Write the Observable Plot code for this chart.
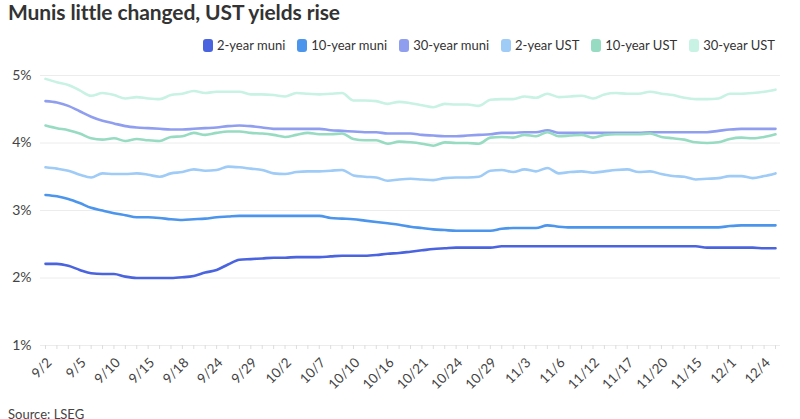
<!DOCTYPE html>
<html><head><meta charset="utf-8">
<script src="https://cdn.jsdelivr.net/npm/d3@7"></script>
<script src="https://cdn.jsdelivr.net/npm/@observablehq/plot@0.6"></script>
<style>
body{margin:0;background:#fff;font-family:Lato,"Open Sans",sans-serif;width:800px;height:419px;overflow:hidden;position:relative}
#title{position:absolute;left:8px;top:-1px;font-size:21px;font-weight:700;color:#333;letter-spacing:-0.1px}
#legend{position:absolute;right:25px;top:37px;display:flex;gap:12px;font-size:13px;color:#333;align-items:center}
#legend .it{display:flex;align-items:center;gap:4px}
#legend .sw{width:10px;height:13px;border-radius:3px;display:inline-block}
#chart{position:absolute;left:0;top:60px}
#source{position:absolute;left:8px;top:406px;font-size:13px;color:#444}
</style></head>
<body>
<div id="title">Munis little changed, UST yields rise</div>
<div id="legend"></div>
<div id="chart"></div>
<div id="source">Source: LSEG</div>
<script>
const seriesNames = ["2-year muni","10-year muni","30-year muni","2-year UST","10-year UST","30-year UST"];
const seriesColors = ["#4a63de","#4b95ec","#909ef0","#9fcbf7","#96dbc2","#c8f2e3"];
const tickLabels = ["9/2","9/5","9/10","9/15","9/18","9/24","9/29","10/2","10/7","10/10","10/16","10/21","10/24","10/29","11/3","11/6","11/12","11/17","11/20","11/15","12/1","12/4"];
const muni2y = [2.21,2.21,2.18,2.12,2.07,2.06,2.06,2.02,2.00,2.00,2.00,2.00,2.01,2.03,2.08,2.12,2.20,2.27,2.28,2.29,2.30,2.30,2.31,2.31,2.31,2.32,2.33,2.33,2.33,2.34,2.36,2.37,2.39,2.41,2.43,2.44,2.45,2.45,2.45,2.45,2.47,2.47,2.47,2.47,2.47,2.47,2.47,2.47,2.47,2.47,2.47,2.47,2.47,2.47,2.47,2.47,2.47,2.47,2.45,2.45,2.45,2.45,2.45,2.44,2.44];
const muni10y = [3.23,3.21,3.17,3.11,3.04,3.00,2.96,2.93,2.90,2.90,2.89,2.87,2.86,2.87,2.88,2.90,2.91,2.92,2.92,2.92,2.92,2.92,2.92,2.92,2.92,2.89,2.88,2.87,2.85,2.83,2.81,2.79,2.76,2.74,2.72,2.71,2.70,2.70,2.70,2.70,2.73,2.74,2.74,2.74,2.78,2.76,2.75,2.75,2.75,2.75,2.75,2.75,2.75,2.75,2.75,2.75,2.75,2.75,2.75,2.75,2.77,2.78,2.78,2.78,2.78];
const muni30y = [4.62,4.60,4.55,4.47,4.39,4.33,4.29,4.25,4.23,4.22,4.21,4.20,4.20,4.21,4.22,4.23,4.25,4.26,4.25,4.23,4.21,4.21,4.21,4.21,4.21,4.19,4.18,4.17,4.16,4.16,4.14,4.14,4.14,4.12,4.11,4.10,4.10,4.11,4.12,4.13,4.15,4.15,4.16,4.16,4.19,4.15,4.15,4.15,4.15,4.15,4.15,4.15,4.15,4.16,4.16,4.16,4.16,4.16,4.16,4.18,4.20,4.21,4.21,4.21,4.21];
const ust2y = [3.64,3.62,3.59,3.53,3.49,3.55,3.54,3.54,3.55,3.53,3.50,3.55,3.57,3.61,3.59,3.60,3.65,3.64,3.62,3.60,3.55,3.54,3.57,3.58,3.58,3.59,3.60,3.52,3.50,3.49,3.44,3.46,3.47,3.46,3.45,3.48,3.49,3.49,3.50,3.59,3.60,3.57,3.61,3.58,3.63,3.55,3.57,3.58,3.56,3.58,3.60,3.61,3.57,3.58,3.54,3.51,3.50,3.46,3.47,3.48,3.51,3.51,3.48,3.51,3.55];
const ust10y = [4.26,4.22,4.19,4.14,4.07,4.05,4.07,4.03,4.06,4.04,4.03,4.09,4.10,4.15,4.12,4.15,4.17,4.17,4.15,4.14,4.12,4.09,4.12,4.15,4.13,4.13,4.14,4.06,4.04,4.04,3.99,4.02,4.01,3.99,3.96,4.01,4.00,4.00,3.99,4.08,4.09,4.08,4.12,4.10,4.16,4.10,4.11,4.12,4.08,4.12,4.13,4.13,4.13,4.14,4.09,4.07,4.05,4.01,4.00,4.01,4.06,4.08,4.07,4.09,4.13];
const ust30y = [4.95,4.90,4.86,4.78,4.70,4.74,4.71,4.66,4.68,4.66,4.65,4.71,4.73,4.77,4.74,4.76,4.76,4.76,4.72,4.72,4.71,4.69,4.74,4.73,4.72,4.73,4.74,4.63,4.63,4.62,4.58,4.61,4.59,4.56,4.53,4.58,4.57,4.57,4.55,4.64,4.65,4.65,4.69,4.67,4.73,4.68,4.69,4.70,4.66,4.72,4.74,4.73,4.73,4.76,4.73,4.71,4.67,4.65,4.65,4.66,4.73,4.73,4.74,4.76,4.79];
const yTicks = [1,2,3,4,5];

const allSeries = [muni2y, muni10y, muni30y, ust2y, ust10y, ust30y];
const data = allSeries.flatMap((vals, k) => vals.map((v, i) => ({i, v, s: seriesNames[k]})));
const n = muni2y.length;
const allIdx = d3.range(n);
const labelIdx = tickLabels.map((_, j) => j * 3);

const leg = document.getElementById("legend");
seriesNames.forEach((name, k) => {
  const it = document.createElement("span"); it.className = "it";
  const sw = document.createElement("span"); sw.className = "sw"; sw.style.background = seriesColors[k];
  const tx = document.createElement("span"); tx.textContent = name;
  it.append(sw, tx); leg.append(it);
});

const chart = Plot.plot({
  width: 800, height: 345,
  marginLeft: 40, marginRight: 20, marginTop: 15, marginBottom: 60,
  style: {fontFamily: "Lato, sans-serif", fontSize: "13px", color: "#444", background: "#fff"},
  x: {domain: [0, n - 1], insetLeft: 5, insetRight: 5},
  y: {domain: [1, 5]},
  color: {domain: seriesNames, range: seriesColors},
  marks: [
    Plot.ruleY(yTicks, {stroke: "#ececec", strokeWidth: 1}),
    Plot.axisY({ticks: yTicks, tickSize: 0, tickPadding: 9, tickFormat: d => d + "%", fontSize: 14, label: null}),
    Plot.axisX({ticks: allIdx, tickSize: 4, tickFormat: () => "", stroke: "#ddd", label: null}),
    Plot.axisX({ticks: labelIdx, tickSize: 0, tickPadding: 15, tickRotate: -45, tickFormat: i => tickLabels[i / 3], fontSize: 13.5, dx: 4, label: null}),
    Plot.line(data, {x: "i", y: "v", z: "s", stroke: "s", strokeWidth: 2.6, curve: "monotone-x"})
  ]
});
document.getElementById("chart").append(chart);
</script>
</body></html>
